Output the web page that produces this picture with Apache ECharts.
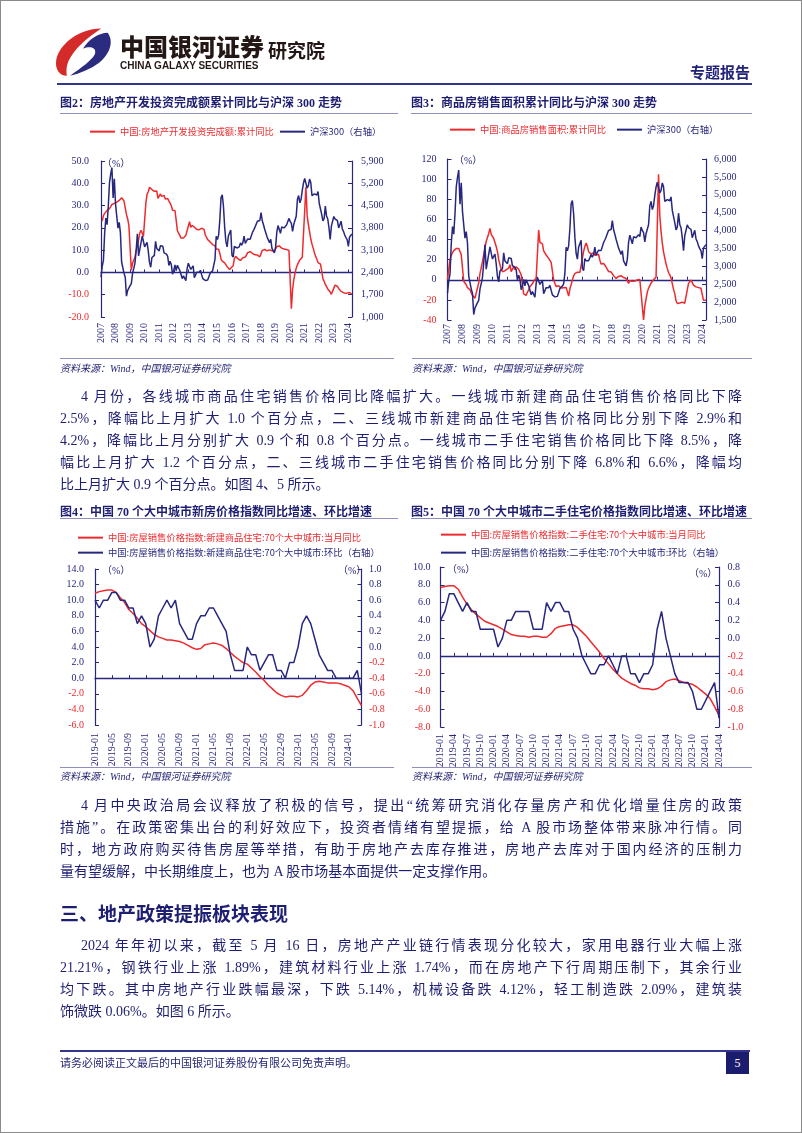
<!DOCTYPE html>
<html lang="zh-CN">
<head>
<meta charset="utf-8">
<title>专题报告</title>
<script src="https://cdn.jsdelivr.net/npm/echarts@6.0.0/dist/echarts.min.js"></script>
<style>
html,body{margin:0;padding:0;background:#fff;}
#page{position:relative;width:802px;height:1133px;overflow:hidden;background:#fff;}
#chart{position:absolute;left:0;top:0;width:802px;height:1133px;}
#frame{position:absolute;left:0;top:0;width:802px;height:1133px;box-sizing:border-box;border:1px solid #8a8a8a;pointer-events:none;}
.abs{position:absolute;white-space:nowrap;}
.ttl{position:absolute;font-family:"Liberation Serif","Noto Sans CJK SC",serif;font-weight:bold;font-size:12px;line-height:14px;color:#1e1e72;white-space:nowrap;}
.rule{position:absolute;height:1px;background:#8f8fbf;}
.src{position:absolute;font-family:"Liberation Serif","Noto Sans CJK SC",serif;font-style:italic;font-size:10px;line-height:12px;color:#1e1e72;white-space:nowrap;}
.pl{position:absolute;left:60px;width:682px;height:22px;font-family:"Liberation Serif","Noto Sans CJK SC",serif;font-size:14px;line-height:22px;color:#1e1e72;text-align:justify;text-align-last:justify;}
.pl.ind{padding-left:21px;width:661px;}
.pl.last{text-align-last:left;}
.pct{position:absolute;font-family:"Liberation Serif","Noto Sans CJK SC",serif;font-size:10px;line-height:12px;color:#1e1e72;white-space:nowrap;}
</style>
</head>
<body>
<div id="page">
  <div id="chart"></div>

  <!-- header -->
  <svg class="abs" style="left:54px;top:26px" width="58" height="50" viewBox="0 0 54 46">
    <path d="M44,2 C22,2 4,18 2,32 C1,40 5,46 12,46 C11,40 12,34 16,28 C22,18 32,10 44,2 Z" fill="#d42a2a"/>
    <path d="M50,6 C56,14 52,26 42,34 C34,40 24,44 15,46 C26,38 35,32 38,26 C40,20 34,18 27,21 C32,12 42,6 50,6 Z" fill="#2b2b80"/>
  </svg>
  <div class="abs" style="left:120px;top:32px;font-family:'Noto Sans CJK SC';font-weight:900;font-size:24px;line-height:28px;color:#231815;">中国银河证券</div>
  <div class="abs" style="left:120px;top:59px;font-family:'Liberation Sans';font-weight:bold;font-size:11px;line-height:12px;color:#231815;transform:scaleX(0.91);transform-origin:0 0;">CHINA GALAXY SECURITIES</div>
  <div class="abs" style="left:268px;top:38px;font-family:'Noto Sans CJK SC';font-weight:bold;font-size:19px;line-height:24px;color:#231815;">研究院</div>
  <div class="abs" style="left:690px;top:63px;font-family:'Noto Sans CJK SC';font-weight:bold;font-size:15px;line-height:18px;color:#23237a;">专题报告</div>
  <div class="abs" style="left:57px;top:83px;width:695px;height:2px;background:#35358c;"></div>

  <!-- chart titles row 1 -->
  <div class="ttl" style="left:60px;top:96px;">图2：房地产开发投资完成额累计同比与沪深 300 走势</div>
  <div class="ttl" style="left:411px;top:96px;">图3：商品房销售面积累计同比与沪深 300 走势</div>
  <div class="rule" style="left:60px;top:113px;width:338px;"></div>
  <div class="rule" style="left:411px;top:113px;width:341px;"></div>
  <div class="pct" style="left:102px;top:158px;">（%）</div>
  <div class="pct" style="left:454px;top:155px;">（%）</div>
  <div class="rule" style="left:60px;top:358px;width:334px;"></div>
  <div class="rule" style="left:412px;top:358px;width:340px;"></div>
  <div class="src" style="left:60px;top:363px;">资料来源：Wind，中国银河证券研究院</div>
  <div class="src" style="left:412px;top:363px;">资料来源：Wind，中国银河证券研究院</div>

  <!-- paragraph 1 -->
  <div class="pl ind" style="top:386px;">4 月份，各线城市商品住宅销售价格同比降幅扩大。一线城市新建商品住宅销售价格同比下降</div>
  <div class="pl" style="top:408px;">2.5%，降幅比上月扩大 1.0 个百分点，二、三线城市新建商品住宅销售价格同比分别下降 2.9%和</div>
  <div class="pl" style="top:430px;">4.2%，降幅比上月分别扩大 0.9 个和 0.8 个百分点。一线城市二手住宅销售价格同比下降 8.5%，降</div>
  <div class="pl" style="top:452px;">幅比上月扩大 1.2 个百分点，二、三线城市二手住宅销售价格同比分别下降 6.8%和 6.6%，降幅均</div>
  <div class="pl last" style="top:474px;">比上月扩大 0.9 个百分点。如图 4、5 所示。</div>

  <!-- chart titles row 2 -->
  <div class="ttl" style="left:60px;top:505px;">图4：中国 70 个大中城市新房价格指数同比增速、环比增速</div>
  <div class="ttl" style="left:411px;top:505px;">图5：中国 70 个大中城市二手住宅价格指数同比增速、环比增速</div>
  <div class="rule" style="left:60px;top:518px;width:338px;"></div>
  <div class="rule" style="left:411px;top:518px;width:341px;"></div>
  <div class="pct" style="left:102px;top:565px;">（%）</div>
  <div class="pct" style="left:338px;top:565px;">（%）</div>
  <div class="pct" style="left:447px;top:564px;">（%）</div>
  <div class="pct" style="left:689px;top:568px;">（%）</div>
  <div class="rule" style="left:60px;top:767px;width:334px;"></div>
  <div class="rule" style="left:412px;top:767px;width:340px;"></div>
  <div class="src" style="left:60px;top:771px;">资料来源：Wind，中国银河证券研究院</div>
  <div class="src" style="left:412px;top:771px;">资料来源：Wind，中国银河证券研究院</div>

  <!-- paragraph 2 -->
  <div class="pl ind" style="top:795px;">4 月中央政治局会议释放了积极的信号，提出“统筹研究消化存量房产和优化增量住房的政策</div>
  <div class="pl" style="top:817px;">措施”。在政策密集出台的利好效应下，投资者情绪有望提振，给 A 股市场整体带来脉冲行情。同</div>
  <div class="pl" style="top:839px;">时，地方政府购买待售房屋等举措，有助于房地产去库存推进，房地产去库对于国内经济的压制力</div>
  <div class="pl last" style="top:861px;">量有望缓解，中长期维度上，也为 A 股市场基本面提供一定支撑作用。</div>

  <!-- section heading -->
  <div class="abs" style="left:60px;top:901px;font-family:'Noto Sans CJK SC';font-weight:bold;font-size:19px;line-height:24px;color:#1e1e72;">三、地产政策提振板块表现</div>

  <!-- paragraph 3 -->
  <div class="pl ind" style="top:935px;">2024 年年初以来，截至 5 月 16 日，房地产产业链行情表现分化较大，家用电器行业大幅上涨</div>
  <div class="pl" style="top:957px;">21.21%，钢铁行业上涨 1.89%，建筑材料行业上涨 1.74%，而在房地产下行周期压制下，其余行业</div>
  <div class="pl" style="top:979px;">均下跌。其中房地产行业跌幅最深，下跌 5.14%，机械设备跌 4.12%，轻工制造跌 2.09%，建筑装</div>
  <div class="pl last" style="top:1001px;">饰微跌 0.06%。如图 6 所示。</div>

  <!-- footer -->
  <div class="abs" style="left:60px;top:1050px;width:690px;height:2px;background:#35358c;"></div>
  <div class="abs" style="left:60px;top:1056px;font-family:'Liberation Serif','Noto Sans CJK SC',serif;font-size:11px;line-height:14px;color:#1e1e72;">请务必阅读正文最后的中国银河证券股份有限公司免责声明。</div>
  <div class="abs" style="left:726px;top:1052px;width:23px;height:22px;background:#1c1c6e;color:#fff;font-family:'Liberation Serif';font-size:12px;line-height:22px;text-align:center;">5</div>

  <div id="frame"></div>
</div>

<script>
const NAVY = '#27277f';
const RED = '#ee2a2e';

// ---------- categories ----------
function monthList(y0, m0, y1, m1) {
  const a = [];
  for (let y = y0; y <= y1; y++) {
    for (let m = 1; m <= 12; m++) {
      if (y === y0 && m < m0) continue;
      if (y === y1 && m > m1) break;
      a.push(y + '-' + (m < 10 ? '0' : '') + m);
    }
  }
  return a;
}
const monthsLong = monthList(2007, 1, 2024, 4);   // 图2、图3
const monthsShort = monthList(2019, 1, 2024, 4);  // 图4、图5

// ---------- series values ----------
// 沪深300 (月末, 右轴)
const hs300 = [
  2250,2593,2781,3624,4109,3898,4471,5218,5487,5689,4739,5338,
  4537,4557,3790,3973,3650,2727,2729,2371,2246,1653,1834,1817,
  1987,2050,2365,2519,2691,3097,3610,2919,2966,3338,3543,3575,
  3204,3282,3345,3067,2715,2564,2868,2903,2935,3379,3149,3128,
  3076,3239,3249,3220,3016,3044,2975,2903,2617,2753,2640,2346,
  2464,2635,2455,2626,2617,2462,2333,2205,2293,2254,2140,2522,
  2688,2673,2495,2447,2606,2235,2278,2404,2409,2403,2466,2331,
  2203,2178,2146,2158,2160,2165,2378,2338,2450,2509,2808,3533,
  3434,3572,4051,4749,4841,4473,3816,3366,3203,3534,3566,3731,
  2946,2877,3218,3156,3169,3154,3203,3327,3253,3336,3538,3310,
  3387,3452,3456,3439,3492,3666,3737,3822,3837,4006,4006,4031,
  4275,4023,3899,3756,3802,3510,3517,3335,3438,3153,3173,3011,
  3202,3670,3872,3913,3630,3826,3836,3799,3815,3887,3828,4097,
  4003,3940,3686,3912,3867,4164,4696,4816,4587,4696,4981,5211,
  5352,5337,5049,5124,5331,5224,4812,4806,4866,4908,4832,4940,
  4564,4582,4222,4016,4091,4485,4170,4079,3804,3439,3854,3872,
  4157,4085,4051,4030,3799,3842,4008,3765,3690,3573,3496,3431,
  3216,3516,3537,3605
];
// 中国:房地产开发投资完成额:累计同比 (%)
const reInvestYoY = [
  null,23.0,25.5,26.5,27.0,27.8,28.5,28.6,29.5,30.5,30.8,31.0,
  null,31.5,32.0,32.3,32.5,33.5,33.0,32.0,29.0,26.0,24.0,21.0,
  null,1.0,4.1,4.9,6.8,9.9,11.6,14.7,17.7,18.9,17.6,16.1,
  null,31.1,35.1,36.2,38.2,38.1,37.2,36.7,36.4,36.5,36.5,33.2,
  null,35.2,34.1,34.3,34.6,32.9,33.6,33.2,32.0,31.1,29.9,27.9,
  null,27.8,23.5,18.7,18.5,16.6,15.4,15.6,15.4,15.4,16.7,16.2,
  null,22.8,20.2,21.1,20.6,20.3,20.5,19.3,19.7,19.2,19.5,19.8,
  null,19.3,16.8,16.4,14.7,14.1,13.7,13.2,12.5,12.4,11.9,10.5,
  null,10.4,8.5,6.0,5.1,4.6,4.3,3.5,2.6,2.0,1.3,1.0,
  null,3.0,6.2,7.2,7.0,6.1,5.3,5.4,5.8,6.6,6.5,6.9,
  null,8.9,9.1,9.3,8.8,8.5,7.9,7.9,8.1,7.8,7.5,7.0,
  null,9.9,10.4,10.3,10.2,9.7,10.2,10.1,9.9,9.7,9.7,9.5,
  null,11.6,11.8,11.9,11.2,10.9,10.6,10.5,10.5,10.3,10.2,9.9,
  null,-16.3,-7.7,-3.3,-0.3,1.9,3.4,4.6,5.6,6.3,6.8,7.0,
  null,38.3,25.6,21.6,18.3,15.0,12.7,10.9,8.8,7.2,6.0,4.4,
  null,3.7,0.7,-2.7,-4.0,-5.4,-6.4,-7.4,-8.0,-8.8,-9.8,-10.0,
  null,-5.7,-5.8,-6.2,-7.2,-7.9,-8.5,-8.8,-9.1,-9.3,-9.4,-9.6,
  null,-9.0,-9.5,-9.8
];
// 中国:商品房销售面积:累计同比 (%)
const salesAreaYoY = [
  0,10,20,24,27,29,30,31,32,31,28,25,
  null,-1.5,-3.0,-5.0,-7.8,-7.6,-10.0,-13.0,-15.5,-16.0,-18.3,-19.7,
  null,-3.0,6.0,12.0,18.0,25.0,32.0,38.0,42.0,46.0,51.0,45.0,
  null,41.0,37.0,33.0,28.0,20.0,15.0,10.0,8.0,8.0,9.0,10.0,
  null,11.6,14.9,8.0,9.9,12.9,10.0,12.9,12.9,10.4,9.0,4.9,
  null,-14.0,-13.6,-15.5,-12.5,-10.0,-7.0,-5.5,-4.0,-1.7,-0.3,1.8,
  null,49.5,37.1,38.2,35.6,28.7,27.5,24.6,23.3,21.2,20.8,17.3,
  null,-0.1,-3.8,-6.7,-7.8,-6.0,-6.7,-8.3,-8.6,-7.9,-8.2,-7.6,
  null,-16.3,-9.2,-4.8,-0.2,3.9,6.1,7.2,7.5,7.2,7.4,6.5,
  null,28.2,33.1,36.5,33.2,27.9,26.4,25.5,26.9,26.8,24.3,22.5,
  null,25.1,19.5,15.7,14.3,16.1,14.8,12.7,10.3,8.2,7.9,7.7,
  null,4.1,3.6,1.3,2.9,3.3,4.2,4.0,2.9,2.2,1.4,1.3,
  null,-3.6,-0.9,-0.3,-1.6,-1.8,-1.3,-0.6,-0.1,0.1,0.2,-0.1,
  null,-39.9,-26.3,-19.3,-12.3,-8.4,-5.8,-3.3,-1.8,0.0,1.3,2.6,
  null,104.9,63.8,48.1,36.3,27.7,21.5,15.9,11.3,7.2,4.8,1.9,
  null,-9.6,-13.8,-20.9,-23.6,-22.2,-23.1,-23.0,-22.2,-22.3,-23.3,-24.3,
  null,-3.6,-1.8,-0.4,-0.9,-5.3,-6.5,-7.1,-7.5,-7.8,-8.0,-8.5,
  null,-20.5,-19.4,-20.2
];
// 新建商品住宅 70城 当月同比 (%)
const newHomeYoY = [
  10.9,11.1,11.2,11.3,11.3,11.0,10.3,9.7,8.8,8.3,7.7,7.0,
  6.6,6.1,5.6,5.3,5.1,4.9,4.9,4.8,4.7,4.5,4.2,3.9,
  3.7,3.8,4.3,4.4,4.5,4.4,4.2,3.8,3.3,2.8,2.4,2.0,
  1.8,1.3,0.8,0.2,-0.3,-0.9,-1.4,-1.9,-2.2,-2.4,-2.3,-2.3,
  -2.4,-2.2,-1.6,-0.9,-0.5,-0.4,-0.5,-0.6,-0.6,-0.6,-0.7,-0.9,
  -1.1,-1.6,-2.6,-3.5
];
// 新建商品住宅 70城 环比 (%, 右轴)
const newHomeMoM = [
  0.6,0.5,0.6,0.6,0.7,0.7,0.6,0.6,0.5,0.5,0.3,0.4,
  0.3,0.0,0.1,0.4,0.5,0.6,0.5,0.6,0.3,0.2,0.1,0.1,
  0.3,0.4,0.4,0.5,0.5,0.4,0.3,0.2,-0.1,-0.3,-0.3,-0.3,
  0.0,-0.1,-0.1,-0.3,-0.2,-0.1,-0.1,-0.3,-0.3,-0.4,-0.2,-0.2,
  0.0,0.3,0.4,0.3,0.1,-0.1,-0.2,-0.3,-0.3,-0.4,-0.4,-0.4,
  -0.4,-0.4,-0.3,-0.6
];
// 二手住宅 70城 当月同比 (%)
const usedHomeYoY = [
  7.7,7.8,7.9,7.9,7.5,6.6,5.8,5.2,4.7,4.3,3.9,3.7,
  3.5,3.3,3.0,2.7,2.4,2.3,2.2,2.2,2.1,2.2,2.2,2.1,
  2.1,2.5,3.1,3.3,3.4,3.5,3.5,3.2,2.7,2.2,1.6,1.0,
  0.4,-0.3,-0.9,-1.5,-2.0,-2.5,-2.8,-3.1,-3.3,-3.6,-3.7,-3.7,
  -3.8,-3.7,-3.4,-2.9,-2.7,-2.6,-2.8,-3.0,-3.1,-3.2,-3.5,-3.9,
  -4.3,-4.8,-5.7,-6.7
];
// 二手住宅 70城 环比 (%, 右轴)
const usedHomeMoM = [
  0.2,0.3,0.5,0.5,0.4,0.3,0.4,0.3,0.3,0.1,0.1,0.1,
  0.1,-0.1,0.0,0.2,0.2,0.3,0.3,0.3,0.3,0.1,0.1,0.1,
  0.4,0.3,0.4,0.4,0.3,0.3,0.1,0.0,-0.2,-0.3,-0.4,-0.4,
  -0.3,-0.3,-0.2,-0.3,-0.4,-0.2,-0.2,-0.4,-0.4,-0.5,-0.4,-0.4,
  -0.3,0.1,0.3,0.0,-0.2,-0.4,-0.5,-0.5,-0.5,-0.6,-0.8,-0.8,
  -0.7,-0.6,-0.5,-0.9
];

// ---------- axis ranges (tick labels) ----------
const ax2L = {min: -20, max: 50, interval: 10};
const ax2R = {min: 1000, max: 5900, interval: 700};
const ax3L = {min: -40, max: 120, interval: 20};
const ax3R = {min: 1500, max: 6000, interval: 500};
const ax4L = {min: -6, max: 14, interval: 2};
const ax4R = {min: -1, max: 1, interval: 0.2};
const ax5L = {min: -8, max: 10, interval: 2};
const ax5R = {min: -1, max: 0.8, interval: 0.2};

// ---------- names ----------
const N2r = '中国:房地产开发投资完成额:累计同比';
const NHS = '沪深300（右轴）';
const N3r = '中国:商品房销售面积:累计同比';
const N4r = '中国:房屋销售价格指数:新建商品住宅:70个大中城市:当月同比';
const N4b = '中国:房屋销售价格指数:新建商品住宅:70个大中城市:环比（右轴）';
const N5r = '中国:房屋销售价格指数:二手住宅:70个大中城市:当月同比';
const N5b = '中国:房屋销售价格指数:二手住宅:70个大中城市:环比（右轴）';

// ---------- helpers ----------
const fmt1 = v => Number(v).toFixed(1);
const fmtInt = v => String(Math.round(Number(v)));
const fmtK = v => Number(v).toLocaleString('en-US');
const signColor = v => (Number(v) < -1e-9 ? RED : NAVY);
const navyColor = () => NAVY;
const isJan = (i, v) => String(v).slice(5) === '01';
const yearFmt = v => String(v).slice(0, 4);

function yAx(gi, pos, r, fmt, colorFn, margin) {
  return {
    type: 'value', gridIndex: gi, position: pos,
    min: r.min, max: r.max, interval: r.interval,
    splitLine: {show: false},
    axisLine: {show: true, onZero: false, lineStyle: {color: NAVY, width: 1.2}},
    axisTick: {show: true, inside: true, length: 4, lineStyle: {color: NAVY, width: 1}},
    axisLabel: {show: true, formatter: fmt, color: colorFn, fontFamily: 'Liberation Serif',
      fontSize: 10, margin: margin, hideOverlap: false, showMinLabel: true, showMaxLabel: true}
  };
}
function xLab(gi, data, interval, fmt, margin) {
  return {
    type: 'category', gridIndex: gi, data: data, boundaryGap: false, position: 'bottom',
    axisLine: {show: false, onZero: false}, axisTick: {show: false}, splitLine: {show: false},
    axisLabel: {rotate: 90, interval: interval, formatter: fmt, color: NAVY,
      fontFamily: 'Liberation Serif', fontSize: 10, margin: margin, hideOverlap: false}
  };
}
function xZero(gi, data, interval) {
  return {
    type: 'category', gridIndex: gi, data: data, boundaryGap: false, position: 'bottom',
    axisLine: {show: true, onZero: true, lineStyle: {color: NAVY, width: 1.3}},
    axisTick: {show: true, inside: true, length: 3, interval: interval, lineStyle: {color: NAVY}},
    axisLabel: {show: false}, splitLine: {show: false}
  };
}
function ln(name, xi, yi, data, color) {
  return {type: 'line', name: name, xAxisIndex: xi, yAxisIndex: yi, data: data,
    symbol: 'none', showSymbol: false, connectNulls: true, silent: true,
    lineStyle: {color: color, width: 1.5}, itemStyle: {color: color}};
}
function lg(name, color, left, top) {
  return {show: true, data: [{name: name, textStyle: {color: color}}], left: left, top: top,
    padding: 0, icon: 'rect', itemWidth: 25, itemHeight: 2, itemGap: 0, selectedMode: false,
    orient: 'horizontal', textStyle: {fontSize: 9.3, fontFamily: 'Noto Sans CJK SC', color: color}};
}

const option = {
  animation: false,
  backgroundColor: 'transparent',
  grid: [
    {left: 101, top: 161, width: 251, height: 156, outerBoundsMode: 'none', containLabel: false},
    {left: 447.5, top: 159, width: 258.5, height: 161, outerBoundsMode: 'none', containLabel: false},
    {left: 95, top: 569, width: 266.5, height: 156, outerBoundsMode: 'none', containLabel: false},
    {left: 440.5, top: 567, width: 278.5, height: 160, outerBoundsMode: 'none', containLabel: false}
  ],
  legend: [
    lg(N2r, RED, 90, 127), lg(NHS, NAVY, 280, 127),
    lg(N3r, RED, 450, 125), lg(NHS, NAVY, 617, 125),
    lg(N4r, RED, 78, 533), lg(N4b, NAVY, 78, 548),
    lg(N5r, RED, 441, 530), lg(N5b, NAVY, 441, 548)
  ],
  xAxis: [
    xLab(0, monthsLong, isJan, yearFmt, 6), xZero(0, monthsLong, isJan),
    xLab(1, monthsLong, isJan, yearFmt, 4), xZero(1, monthsLong, isJan),
    xLab(2, monthsShort, 3, v => v, 8), xZero(2, monthsShort, 3),
    xLab(3, monthsShort, 2, v => v, 7), xZero(3, monthsShort, 2)
  ],
  yAxis: [
    yAx(0, 'left', ax2L, fmt1, signColor, 12), yAx(0, 'right', ax2R, fmtK, navyColor, 9),
    yAx(1, 'left', ax3L, fmtInt, signColor, 11), yAx(1, 'right', ax3R, fmtK, navyColor, 8),
    yAx(2, 'left', ax4L, fmt1, signColor, 11), yAx(2, 'right', ax4R, fmt1, signColor, 7.5),
    yAx(3, 'left', ax5L, fmt1, signColor, 10), yAx(3, 'right', ax5R, fmt1, signColor, 8.5)
  ],
  series: [
    ln(N2r, 0, 0, reInvestYoY, RED), ln(NHS, 0, 1, hs300, NAVY),
    ln(N3r, 2, 2, salesAreaYoY, RED), ln(NHS, 2, 3, hs300, NAVY),
    ln(N4r, 4, 4, newHomeYoY, RED), ln(N4b, 4, 5, newHomeMoM, NAVY),
    ln(N5r, 6, 6, usedHomeYoY, RED), ln(N5b, 6, 7, usedHomeMoM, NAVY)
  ]
};

const chart = echarts.init(document.getElementById('chart'), null, {renderer: 'canvas'});
chart.setOption(option);
</script>
</body>
</html>
